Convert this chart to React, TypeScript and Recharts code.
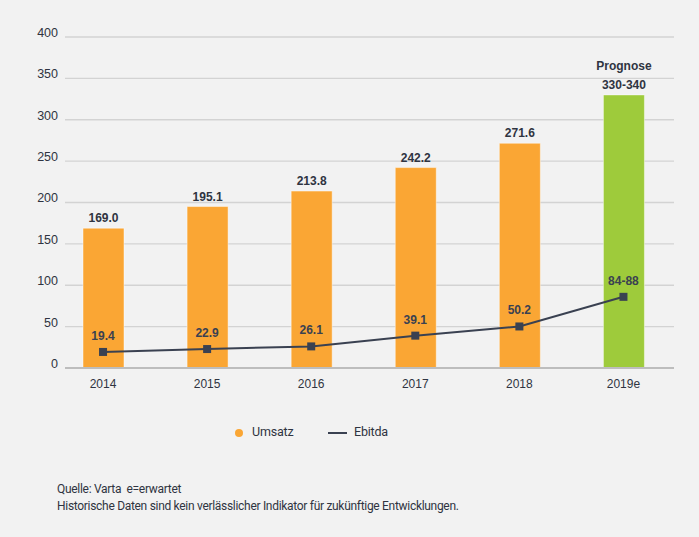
import React from 'react';
import { ComposedChart, Bar, Line, XAxis, YAxis, CartesianGrid, Legend, LabelList, Cell } from 'recharts';

const years = ['2014', '2015', '2016', '2017', '2018', '2019e'];
const umsatz = [169.0, 195.1, 213.8, 242.2, 271.6, 330];
const umsatzLabels = ['169.0', '195.1', '213.8', '242.2', '271.6', '330-340'];
const ebitda = [19.4, 22.9, 26.1, 39.1, 50.2, 86];
const ebitdaLabels = ['19.4', '22.9', '26.1', '39.1', '50.2', '84-88'];
const yTicks = [0, 50, 100, 150, 200, 250, 300, 350, 400];

const ORANGE = '#faa634';
const GREEN = '#9ecb3b';
const NAVY = '#3a4151';
const TEXT = '#2f3441';
const FONT = '"Liberation Sans", Arial, sans-serif';
const NOTE_FONT = 'Roboto, sans-serif';

const data = years.map((year, i) => ({
  year,
  umsatz: umsatz[i],
  ebitda: ebitda[i],
  umsatzLabel: umsatzLabels[i],
  ebitdaLabel: ebitdaLabels[i],
}));

const BarLabel = (props: any) => {
  const { x, y, width, value, index } = props;
  const cx = x + width / 2;
  return (
    <g>
      {index === years.length - 1 && (
        <text x={cx} y={y - 25} textAnchor="middle" fontSize={12} fontWeight="bold" fill={TEXT} fontFamily={FONT}>
          Prognose
        </text>
      )}
      <text x={cx} y={y - 6} textAnchor="middle" fontSize={12} fontWeight="bold" fill={TEXT} fontFamily={FONT}>
        {value}
      </text>
    </g>
  );
};

const LineLabel = (props: any) => {
  const { x, y, value } = props;
  return (
    <text x={x} y={y - 12} textAnchor="middle" fontSize={12} fontWeight="bold" fill={NAVY} fontFamily={FONT}>
      {value}
    </text>
  );
};

const SquareDot = (props: any) => {
  const { cx, cy, index } = props;
  return <rect key={`dot-${index}`} x={cx - 4} y={cy - 4} width={8} height={8} fill={NAVY} />;
};

const YTick = (props: any) => {
  const { x, y, payload } = props;
  return (
    <text x={x} y={y - 4.5} dy="0.35em" textAnchor="end" fontSize={12.5} fill={TEXT} fontFamily={FONT}>
      {payload.value}
    </text>
  );
};

// legend drawn by hand so the two items sit where the original puts them
const renderLegend = () => (
  <div style={{ position: 'relative', height: 62, fontFamily: NOTE_FONT, fontSize: 12.5, letterSpacing: '-0.2px', color: TEXT }}>
    <span style={{ position: 'absolute', left: 235, top: 31, width: 8, height: 8, borderRadius: 4, background: ORANGE }} />
    <span style={{ position: 'absolute', left: 252, top: 27, lineHeight: '14px' }}>Umsatz</span>
    <span style={{ position: 'absolute', left: 328, top: 34, width: 19, height: 2, background: NAVY }} />
    <span style={{ position: 'absolute', left: 354, top: 27, lineHeight: '14px' }}>Ebitda</span>
  </div>
);

export default function App() {
  return (
    <div style={{ position: 'absolute', left: 0, top: 0, width: 699, height: 537, background: '#f2f2f2', overflow: 'hidden' }}>
      <ComposedChart width={699} height={460} data={data} margin={{ top: 37, right: 25, left: 15, bottom: 0 }}>
        <CartesianGrid vertical={false} stroke="#d3d3d3" strokeWidth={1.3} />
        <XAxis
          dataKey="year"
          padding={{ left: -14, right: -1.5 }}
          height={30}
          tickLine={false}
          tickSize={0}
          tickMargin={11}
          axisLine={{ stroke: '#bdbdbd', strokeWidth: 2 }}
          tick={{ fontSize: 12, fill: TEXT, fontFamily: FONT }}
        />
        <YAxis
          width={50}
          domain={[0, 400]}
          ticks={yTicks}
          axisLine={false}
          tickLine={false}
          tickSize={0}
          tickMargin={7}
          tick={<YTick />}
        />
        <Legend verticalAlign="bottom" height={62} content={renderLegend} wrapperStyle={{ left: 0, width: 699 }} />
        <Bar dataKey="umsatz" name="Umsatz" barSize={41} fill={ORANGE} stroke="rgba(255,255,255,0.45)" strokeWidth={1} isAnimationActive={false}>
          {data.map((d, i) => (
            <Cell key={d.year} fill={i === years.length - 1 ? GREEN : ORANGE} />
          ))}
          <LabelList dataKey="umsatzLabel" content={<BarLabel />} />
        </Bar>
        <Line
          dataKey="ebitda"
          name="Ebitda"
          type="linear"
          stroke={NAVY}
          strokeWidth={2}
          dot={<SquareDot />}
          activeDot={false}
          isAnimationActive={false}
        >
          <LabelList dataKey="ebitdaLabel" content={<LineLabel />} />
        </Line>
      </ComposedChart>
      <div style={{ position: 'absolute', left: 57, top: 481, fontFamily: NOTE_FONT, fontSize: 12, letterSpacing: '-0.3px', lineHeight: '17px', color: TEXT }}>
        <div>Quelle: Varta&nbsp; e=erwartet</div>
        <div>Historische Daten sind kein verlässlicher Indikator für zukünftige Entwicklungen.</div>
      </div>
    </div>
  );
}
